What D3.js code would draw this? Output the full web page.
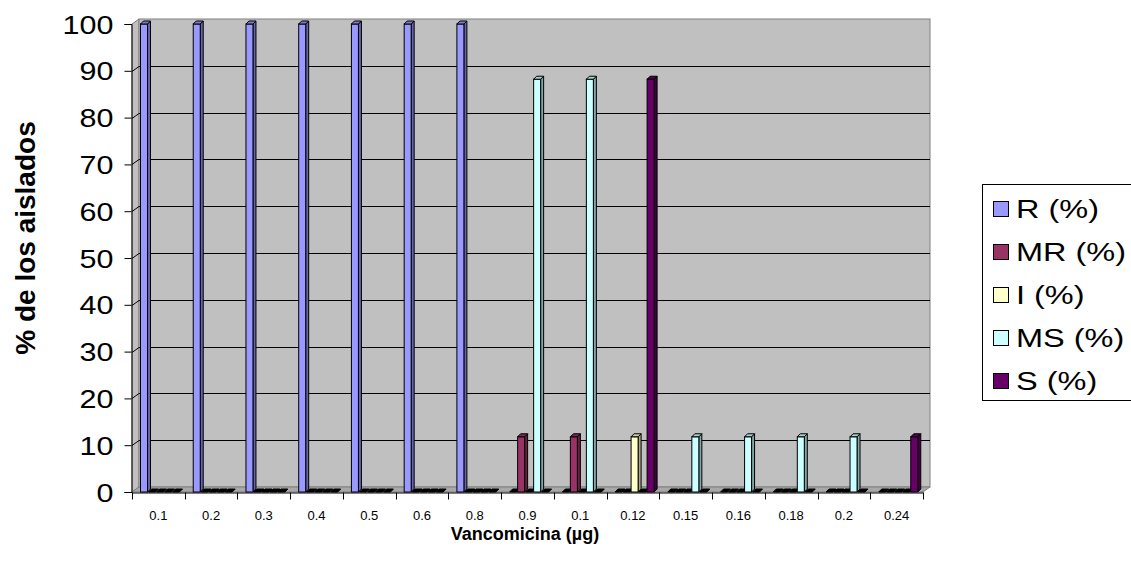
<!DOCTYPE html>
<html>
<head>
<meta charset="utf-8">
<script src="https://cdn.jsdelivr.net/npm/d3@7"></script>
<style>
  html, body { margin: 0; padding: 0; background: #ffffff; }
  svg { display: block; font-family: "Liberation Sans", Arial, sans-serif; }
</style>
</head>
<body>
<svg id="chart" width="1131" height="569"></svg>
<script>
// Vancomycin concentrations (category axis, in order of appearance)
const categories = ["0.1", "0.2", "0.3", "0.4", "0.5", "0.6", "0.8", "0.9", "0.1 ", "0.12", "0.15", "0.16", "0.18", "0.2 ", "0.24"];
const categoryLabels = ["0.1", "0.2", "0.3", "0.4", "0.5", "0.6", "0.8", "0.9", "0.1", "0.12", "0.15", "0.16", "0.18", "0.2", "0.24"];

// Percentage of isolates per susceptibility class
const seriesNames = ["R (%)", "MR (%)", "I (%)", "MS (%)", "S (%)"];
const valuesR  = [100, 100, 100, 100, 100, 100, 100, 0, 0, 0, 0, 0, 0, 0, 0];
const valuesMR = [0, 0, 0, 0, 0, 0, 0, 11.8, 11.8, 0, 0, 0, 0, 0, 0];
const valuesI  = [0, 0, 0, 0, 0, 0, 0, 0, 0, 11.8, 0, 0, 0, 0, 0];
const valuesMS = [0, 0, 0, 0, 0, 0, 0, 88.2, 88.2, 0, 11.8, 11.8, 11.8, 11.8, 0];
const valuesS  = [0, 0, 0, 0, 0, 0, 0, 0, 0, 88.2, 0, 0, 0, 0, 11.8];
const seriesColors = ["#9999FF", "#993366", "#FFFFCC", "#CCFFFF", "#660066"];

const yTicks = [0, 10, 20, 30, 40, 50, 60, 70, 80, 90, 100];

const seriesValues = [valuesR, valuesMR, valuesI, valuesMS, valuesS];

const svg = d3.select("#chart");

// plot frame (front plane) and 3D depth of the walls
const x0 = 132, x1 = 923, yTop = 24, yBot = 492;
const DX = 7, DY = -5;       // wall depth offset
const BDX = 3, BDY = -3;     // bar depth offset

const x = d3.scaleBand().domain(categories).range([x0, x1]).paddingInner(0).paddingOuter(0);
const y = d3.scaleLinear().domain([0, 100]).range([yBot, yTop]);

// slot positions of each series inside a category
const slotStart = 8.5, slotStep = 8, barW = 7;

// ----- walls -----
const g = svg.append("g");
// side wall
g.append("polygon")
  .attr("points", [[x0, yTop], [x0 + DX, yTop + DY], [x0 + DX, yBot + DY], [x0, yBot]].join(" "))
  .attr("fill", "#c0c0c0").attr("stroke", "#808080").attr("stroke-width", 1);
// back wall
g.append("rect")
  .attr("x", x0 + DX).attr("y", yTop + DY)
  .attr("width", x1 - x0).attr("height", yBot - yTop)
  .attr("fill", "#c0c0c0").attr("stroke", "#808080").attr("stroke-width", 1);
// floor
g.append("polygon")
  .attr("points", [[x0, yBot], [x1, yBot], [x1 + DX, yBot + DY], [x0 + DX, yBot + DY]].join(" "))
  .attr("fill", "#a8a8a8").attr("stroke", "#808080").attr("stroke-width", 1);

// gridlines on back wall and side wall
const grid = g.append("g");
yTicks.filter(v => v > 0 && v < 100).forEach(v => {
  const yy = Math.round(y(v)) + 0.5;
  grid.append("line")
    .attr("x1", x0 + DX).attr("x2", x1 + DX)
    .attr("y1", yy + DY).attr("y2", yy + DY)
    .attr("stroke", "#000").attr("stroke-width", 1);
  grid.append("line")
    .attr("x1", x0).attr("x2", x0 + DX)
    .attr("y1", yy).attr("y2", yy + DY)
    .attr("stroke", "#000").attr("stroke-width", 1);
});

// ----- bars -----
const bars = [];
categories.forEach((c, ci) => {
  seriesValues.forEach((vals, si) => {
    bars.push({ c, ci, si, v: vals[ci] });
  });
});

const barG = svg.append("g");
bars.forEach(b => {
  const bx = x(b.c) + slotStart + b.si * slotStep;
  const yt = y(b.v), yb = y(0);
  const col = d3.color(seriesColors[b.si]);
  const side = col.darker(1.2).formatHex();
  const top = col.darker(0.6).formatHex();
  const gb = barG.append("g");
  if (b.v > 0) {
    gb.append("polygon")
      .attr("points", [[bx + barW, yt], [bx + barW + BDX, yt + BDY], [bx + barW + BDX, yb + BDY], [bx + barW, yb]].join(" "))
      .attr("fill", side).attr("stroke", "#000").attr("stroke-width", 1).attr("stroke-linejoin", "round");
    gb.append("rect")
      .attr("x", bx).attr("y", yt).attr("width", barW).attr("height", yb - yt)
      .attr("fill", seriesColors[b.si]).attr("stroke", "#000").attr("stroke-width", 1);
  }
  gb.append("polygon")
    .attr("points", [[bx, yt], [bx + barW, yt], [bx + barW + BDX, yt + BDY], [bx + BDX, yt + BDY]].join(" "))
    .attr("fill", b.v > 0 ? top : "#000").attr("stroke", "#000").attr("stroke-width", 1).attr("stroke-linejoin", "round");
});

// ----- axes -----
const yAxis = d3.axisLeft(y).tickValues(yTicks).tickSize(7).tickPadding(0).tickFormat(d3.format("d"));
const yAxisG = svg.append("g").attr("transform", `translate(${x0 - 0.5},0)`).call(yAxis);
yAxisG.select(".domain").attr("stroke", "#000");
yAxisG.selectAll(".tick line").attr("stroke", "#000");
// tick labels are drawn slightly wide, as in the original workbook export
yAxisG.selectAll(".tick text")
  .attr("x", 0).attr("dy", "0.36em")
  .attr("transform", "translate(-18,0) scale(1.22,1)")
  .attr("font-size", 25).attr("fill", "#000")
  .attr("font-family", "'Liberation Sans', Arial, sans-serif");

const xAxis = d3.axisBottom(x).tickValues([]).tickSizeOuter(0);
const xAxisG = svg.append("g").attr("transform", `translate(0,${yBot + 0.5})`).call(xAxis);
xAxisG.select(".domain").attr("stroke", "#000");
// category boundary ticks
const bounds = categories.map(c => x(c)).concat([x1]);
xAxisG.selectAll("line.bound").data(bounds).enter().append("line")
  .attr("class", "bound")
  .attr("x1", d => Math.round(d) + 0.5).attr("x2", d => Math.round(d) + 0.5)
  .attr("y1", 0).attr("y2", 7).attr("stroke", "#000");
xAxisG.selectAll("text.cat").data(categories).enter().append("text")
  .attr("class", "cat")
  .attr("x", d => x(d) + x.bandwidth() / 2)
  .attr("y", 27)
  .attr("text-anchor", "middle")
  .attr("font-size", 13)
  .attr("fill", "#000")
  .text((d, i) => categoryLabels[i]);

// axis titles
svg.append("text")
  .attr("x", 525).attr("y", 540)
  .attr("text-anchor", "middle")
  .attr("font-size", 18).attr("font-weight", "bold")
  .text("Vancomicina (µg)");
svg.append("text")
  .attr("transform", "translate(35,238) rotate(-90)")
  .attr("text-anchor", "middle")
  .attr("font-size", 28).attr("font-weight", "bold")
  .text("% de los aislados");

// ----- legend -----
const lg = svg.append("g");
lg.append("rect")
  .attr("x", 982.5).attr("y", 184.5).attr("width", 170).attr("height", 216)
  .attr("fill", "#fff").attr("stroke", "#000").attr("stroke-width", 1);
seriesNames.forEach((name, i) => {
  const cy = 209 + i * 43;
  lg.append("rect")
    .attr("x", 993.5).attr("y", cy - 7.5).attr("width", 15).attr("height", 15)
    .attr("fill", seriesColors[i]).attr("stroke", "#000").attr("stroke-width", 1);
  lg.append("text")
    .attr("transform", `translate(1016,${cy + 9}) scale(1.3,1)`)
    .attr("font-size", 25).attr("fill", "#000")
    .text(name);
});
</script>
</body>
</html>
